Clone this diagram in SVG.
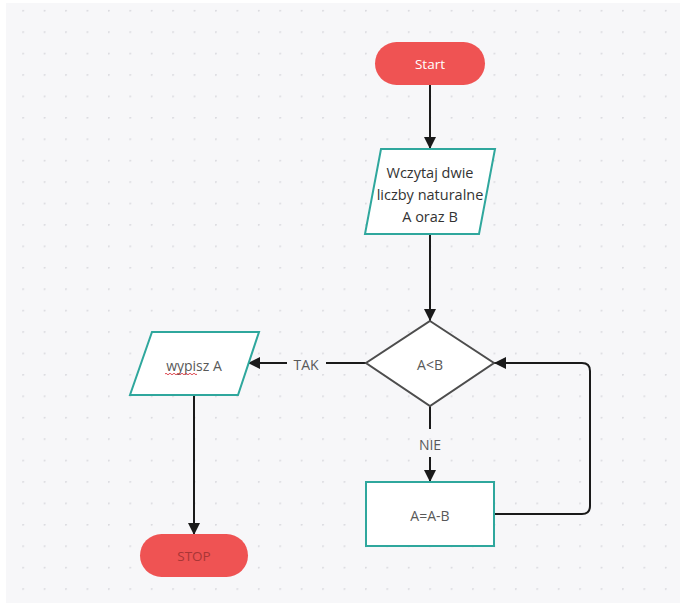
<svg xmlns="http://www.w3.org/2000/svg" width="680" height="607" viewBox="0 0 680 607">
  <defs>
    <pattern id="dots" x="22.3" y="9.9" width="21.42" height="21.42" patternUnits="userSpaceOnUse">
      <circle cx="0.8" cy="0.8" r="1" fill="#d9d9de"/>
    </pattern>
    <marker id="arr" viewBox="0 0 10 10" refX="10" refY="5" markerWidth="6" markerHeight="6" orient="auto" markerUnits="strokeWidth">
      <path d="M0,0 L10,5 L0,10 Z" fill="#1a1a1a"/>
    </marker>
    <style>
      .term { fill: #ef5353; }
      .io { fill: #ffffff; stroke: #2fa79d; stroke-width: 2; }
      .dec { fill: #ffffff; stroke: #4d4d4d; stroke-width: 2; }
      .proc { fill: #ffffff; stroke: #2fa79d; stroke-width: 2; }
      .conn { fill: none; stroke: #1a1a1a; stroke-width: 2; }
      text { font-family: "Open Sans", "Noto Sans", "Liberation Sans", sans-serif; text-anchor: middle; dominant-baseline: central; }
      .t { font-size: 14px; fill: #595959; }
      .tin { font-size: 14.5px; fill: #333333; }
      .lbl { font-size: 14px; fill: #595959; }
    </style>
  </defs>
  <rect x="0" y="0" width="680" height="607" fill="#ffffff"/>
  <rect x="6" y="3" width="674" height="600" fill="#f7f7f9"/>
  <rect x="6" y="3" width="674" height="600" fill="url(#dots)"/>

  <g id="connectors">
    <line class="conn" x1="430" y1="85" x2="430" y2="149" marker-end="url(#arr)"/>
    <line class="conn" x1="430" y1="234" x2="430" y2="321" marker-end="url(#arr)"/>
    <line class="conn" x1="430" y1="406" x2="430" y2="429"/>
    <line class="conn" x1="430" y1="457" x2="430" y2="482" marker-end="url(#arr)"/>
    <path class="conn" d="M494,514 H582 Q590,514 590,506 V371 Q590,363 582,363 H494" marker-end="url(#arr)"/>
    <line class="conn" x1="366" y1="363" x2="326" y2="363"/>
    <line class="conn" x1="287" y1="363" x2="248" y2="363" marker-end="url(#arr)"/>
    <line class="conn" x1="194" y1="395" x2="194" y2="535" marker-end="url(#arr)"/>
    <text class="lbl" x="430" y="444">NIE</text>
    <text class="lbl" x="306" y="364">TAK</text>
  </g>

  <g id="start">
    <rect class="term" x="375" y="42" width="110" height="43" rx="21.5"/>
    <text x="430" y="64" style="font-size:13.5px;fill:#ffffff">Start</text>
  </g>

  <g id="input">
    <polygon class="io" points="381,149 495,149 479,234 365,234"/>
    <text class="tin" x="430" y="172">Wczytaj dwie</text>
    <text class="tin" x="430" y="194">liczby naturalne</text>
    <text class="tin" x="430" y="216">A oraz B</text>
  </g>

  <g id="decision">
    <polygon class="dec" points="430,321 494,363 430,406 366,363"/>
    <text class="t" x="430" y="364">A&lt;B</text>
  </g>

  <g id="process">
    <rect class="proc" x="366" y="482" width="128" height="64"/>
    <text class="t" x="430" y="515">A=A-B</text>
  </g>

  <g id="output">
    <polygon class="io" points="152,332 259,332 238,395 130,395"/>
    <text class="t" x="194" y="365">wypisz A</text>
    <path d="M165,374 q1,-1.5 2,0 t2,0 t2,0 t2,0 t2,0 t2,0 t2,0 t2,0 t2,0 t2,0 t2,0 t2,0 t2,0 t2,0 t2,0 t2,0" fill="none" stroke="#d9363e" stroke-width="0.9"/>
  </g>

  <g id="stop">
    <rect class="term" x="140" y="534" width="108" height="43" rx="21.5"/>
    <text x="194" y="556" style="font-size:13.5px;fill:#a83636">STOP</text>
  </g>
</svg>
